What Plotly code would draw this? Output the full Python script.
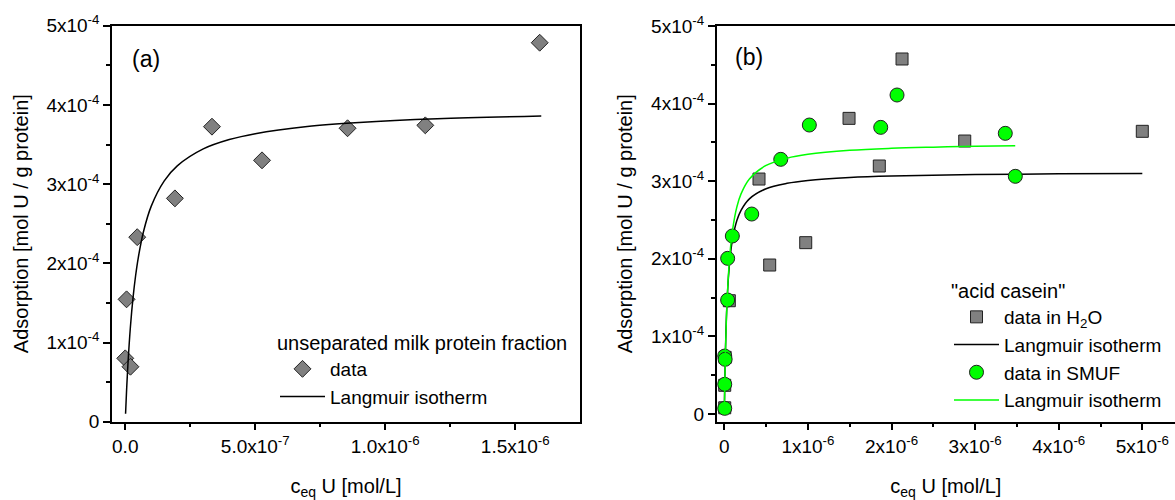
import plotly.graph_objects as go

# ---------------- data (panel a) ----------------
a_data_x = [0.000e-6, 0.005e-6, 0.020e-6, 0.046e-6, 0.191e-6, 0.3335e-6, 0.526e-6, 0.855e-6, 1.154e-6, 1.594e-6]
a_data_y = [0.80e-4, 1.545e-4, 0.694e-4, 2.33e-4, 2.82e-4, 3.725e-4, 3.30e-4, 3.705e-4, 3.742e-4, 4.785e-4]

a_fit_x = [0.0012e-6, 0.005e-6, 0.01e-6, 0.02e-6, 0.03e-6, 0.04e-6, 0.05e-6, 0.07e-6, 0.1e-6, 0.15e-6,
           0.2e-6, 0.3e-6, 0.4e-6, 0.5e-6, 0.7e-6, 0.9e-6, 1.2e-6, 1.6e-6]
a_fit_y = [0.101e-4, 0.390e-4, 0.710e-4, 1.205e-4, 1.570e-4, 1.849e-4, 2.070e-4, 2.398e-4, 2.722e-4, 3.041e-4,
           3.230e-4, 3.444e-4, 3.562e-4, 3.637e-4, 3.727e-4, 3.778e-4, 3.825e-4, 3.860e-4]

# ---------------- data (panel b) ----------------
b_h2o_x = [0.005e-6, 0.005e-6, 0.01e-6, 0.06e-6, 0.415e-6, 0.543e-6, 0.974e-6, 1.492e-6, 1.854e-6, 2.126e-6, 2.876e-6, 5.0e-6]
b_h2o_y = [0.08e-4, 0.37e-4, 0.73e-4, 1.46e-4, 3.028e-4, 1.92e-4, 2.208e-4, 3.81e-4, 3.196e-4, 4.575e-4, 3.518e-4, 3.643e-4]

b_smuf_x = [0.005e-6, 0.005e-6, 0.005e-6, 0.01e-6, 0.04e-6, 0.04e-6, 0.096e-6, 0.328e-6, 0.675e-6, 1.017e-6,
            1.871e-6, 2.066e-6, 3.361e-6, 3.481e-6]
b_smuf_y = [0.073e-4, 0.383e-4, 0.747e-4, 0.705e-4, 1.469e-4, 2.006e-4, 2.294e-4, 2.577e-4, 3.282e-4, 3.724e-4,
            3.694e-4, 4.111e-4, 3.617e-4, 3.063e-4]

b_fit_h2o_x = [0.0012e-6, 0.005e-6, 0.01e-6, 0.02e-6, 0.03e-6, 0.05e-6, 0.075e-6, 0.1e-6, 0.15e-6, 0.2e-6,
               0.3e-6, 0.5e-6, 0.75e-6, 1.0e-6, 1.5e-6, 2.0e-6, 3.0e-6, 4.0e-6, 5.0e-6]
b_fit_h2o_y = [0.096e-4, 0.363e-4, 0.651e-4, 1.077e-4, 1.378e-4, 1.775e-4, 2.073e-4, 2.264e-4, 2.493e-4, 2.625e-4,
               2.773e-4, 2.903e-4, 2.973e-4, 3.010e-4, 3.047e-4, 3.066e-4, 3.085e-4, 3.095e-4, 3.101e-4]

b_fit_smuf_x = [0.0012e-6, 0.005e-6, 0.01e-6, 0.02e-6, 0.03e-6, 0.05e-6, 0.075e-6, 0.1e-6, 0.15e-6, 0.2e-6,
                0.3e-6, 0.5e-6, 0.75e-6, 1.0e-6, 1.5e-6, 2.0e-6, 2.5e-6, 3.0e-6, 3.48e-6]
b_fit_smuf_y = [0.087e-4, 0.337e-4, 0.615e-4, 1.046e-4, 1.365e-4, 1.806e-4, 2.154e-4, 2.384e-4, 2.668e-4, 2.837e-4,
                3.029e-4, 3.203e-4, 3.297e-4, 3.347e-4, 3.398e-4, 3.424e-4, 3.439e-4, 3.450e-4, 3.457e-4]

# ---------------- ticks ----------------
y_tickvals = [0, 1e-4, 2e-4, 3e-4, 4e-4, 5e-4]
y_ticktext = ["0", "1x10<sup>-4</sup>", "2x10<sup>-4</sup>", "3x10<sup>-4</sup>", "4x10<sup>-4</sup>", "5x10<sup>-4</sup>"]
ax_tickvals = [0, 5e-7, 1e-6, 1.5e-6]
ax_ticktext = ["0.0", "5.0x10<sup>-7</sup>", "1.0x10<sup>-6</sup>", "1.5x10<sup>-6</sup>"]
bx_tickvals = [0, 1e-6, 2e-6, 3e-6, 4e-6, 5e-6]
bx_ticktext = ["0", "1x10<sup>-6</sup>", "2x10<sup>-6</sup>", "3x10<sup>-6</sup>", "4x10<sup>-6</sup>", "5x10<sup>-6</sup>"]

FONT = "Liberation Sans, Arial, sans-serif"
GRAY = "#808080"
GREEN = "#00ff00"
W, H = 1175, 500

fig = go.Figure()

fig.add_trace(go.Scatter(x=a_data_x, y=a_data_y, mode="markers", name="data",
                         marker=dict(symbol="diamond", size=13, color=GRAY, line=dict(color="#222222", width=1)),
                         xaxis="x", yaxis="y", legend="legend"))
fig.add_trace(go.Scatter(x=a_fit_x, y=a_fit_y, mode="lines", name="Langmuir isotherm",
                         line=dict(color="black", width=1.5, shape="spline"),
                         xaxis="x", yaxis="y", legend="legend"))

fig.add_trace(go.Scatter(x=b_h2o_x, y=b_h2o_y, mode="markers", name="data in H<sub>2</sub>O",
                         marker=dict(symbol="square", size=12, color=GRAY, line=dict(color="#222222", width=1)),
                         xaxis="x2", yaxis="y2", legend="legend2"))
fig.add_trace(go.Scatter(x=b_fit_h2o_x, y=b_fit_h2o_y, mode="lines", name="Langmuir isotherm",
                         line=dict(color="black", width=1.5, shape="spline"),
                         xaxis="x2", yaxis="y2", legend="legend2"))
fig.add_trace(go.Scatter(x=b_smuf_x, y=b_smuf_y, mode="markers", name="data in SMUF",
                         marker=dict(symbol="circle", size=14, color=GREEN, line=dict(color="#222222", width=1)),
                         xaxis="x2", yaxis="y2", legend="legend2"))
fig.add_trace(go.Scatter(x=b_fit_smuf_x, y=b_fit_smuf_y, mode="lines", name="Langmuir isotherm",
                         line=dict(color=GREEN, width=1.5, shape="spline"),
                         xaxis="x2", yaxis="y2", legend="legend2"))

def px_x(p):
    return p / W

def px_y(p):
    return 1 - p / H

TICKFONT = dict(family=FONT, size=19, color="black")
TITLEFONT = dict(family=FONT, size=20, color="black")
LEGFONT = dict(family=FONT, size=19, color="black")

axis_common = dict(showgrid=False, zeroline=False, showline=True, linecolor="black", linewidth=1.5,
                   ticks="outside", ticklen=7, tickwidth=1.5, tickcolor="black", tickfont=TICKFONT,
                   tickmode="array", automargin=False)

fig.update_layout(
    width=W, height=H,
    margin=dict(l=0, r=0, t=0, b=0, autoexpand=False),
    plot_bgcolor="white", paper_bgcolor="white",
    font=dict(family=FONT, color="black"),
    xaxis=dict(axis_common, domain=[px_x(112), px_x(580)], range=[-0.051e-6, 1.749e-6],
               tickvals=ax_tickvals, ticktext=ax_ticktext, mirror=True, anchor="y",
               minor=dict(tickmode="array", tickvals=[2.5e-7, 7.5e-7, 1.25e-6, 1.75e-6],
                          ticks="outside", ticklen=4, tickwidth=1.5, tickcolor="black"),
               title=dict(text="c<sub>eq</sub> U [mol/L]", font=TITLEFONT, standoff=23)),
    yaxis=dict(axis_common, domain=[px_y(421.7), px_y(25.7)], range=[0, 5e-4],
               tickvals=y_tickvals, ticktext=y_ticktext, mirror=True, anchor="x",
               minor=dict(tickmode="array", tickvals=[0.5e-4, 1.5e-4, 2.5e-4, 3.5e-4, 4.5e-4],
                          ticks="outside", ticklen=4, tickwidth=1.5, tickcolor="black"),
               title=dict(text="Adsorption [mol U / g protein]", font=TITLEFONT, standoff=12)),
    xaxis2=dict(axis_common, domain=[px_x(716.7), 1.0], range=[-0.091e-6, 5.391e-6],
                tickvals=bx_tickvals, ticktext=bx_ticktext, mirror=True, anchor="y2",
                minor=dict(tickmode="array", tickvals=[0.5e-6, 1.5e-6, 2.5e-6, 3.5e-6, 4.5e-6, 5.5e-6],
                           ticks="outside", ticklen=4, tickwidth=1.5, tickcolor="black"),
                title=dict(text="c<sub>eq</sub> U [mol/L]", font=TITLEFONT, standoff=24)),
    yaxis2=dict(axis_common, domain=[px_y(421.7), px_y(25.7)], range=[-0.099e-4, 5.004e-4],
                tickvals=y_tickvals, ticktext=y_ticktext, mirror=False, anchor="x2",
                minor=dict(tickmode="array", tickvals=[0.5e-4, 1.5e-4, 2.5e-4, 3.5e-4, 4.5e-4],
                           ticks="outside", ticklen=4, tickwidth=1.5, tickcolor="black"),
                title=dict(text="Adsorption [mol U / g protein]", font=TITLEFONT, standoff=13)),
    legend=dict(x=px_x(275), y=px_y(324), xanchor="left", yanchor="top",
                bgcolor="rgba(0,0,0,0)", borderwidth=0,
                font=LEGFONT,
                title=dict(text="unseparated milk protein fraction", font=dict(family=FONT, size=20, color="black")),
                itemwidth=45, tracegroupgap=0),
    legend2=dict(x=px_x(949), y=px_y(272), xanchor="left", yanchor="top",
                 bgcolor="rgba(0,0,0,0)", borderwidth=0,
                 font=LEGFONT,
                 title=dict(text="\"acid casein\"", font=dict(family=FONT, size=20, color="black")),
                 itemwidth=45, tracegroupgap=0),
    annotations=[
        dict(text="(a)", x=px_x(130), y=px_y(59), xref="paper", yref="paper", xanchor="left", yanchor="middle",
             showarrow=False, font=dict(family=FONT, size=23, color="black")),
        dict(text="(b)", x=px_x(733), y=px_y(57), xref="paper", yref="paper", xanchor="left", yanchor="middle",
             showarrow=False, font=dict(family=FONT, size=23, color="black")),
    ],
)

fig.write_html("out.html")
